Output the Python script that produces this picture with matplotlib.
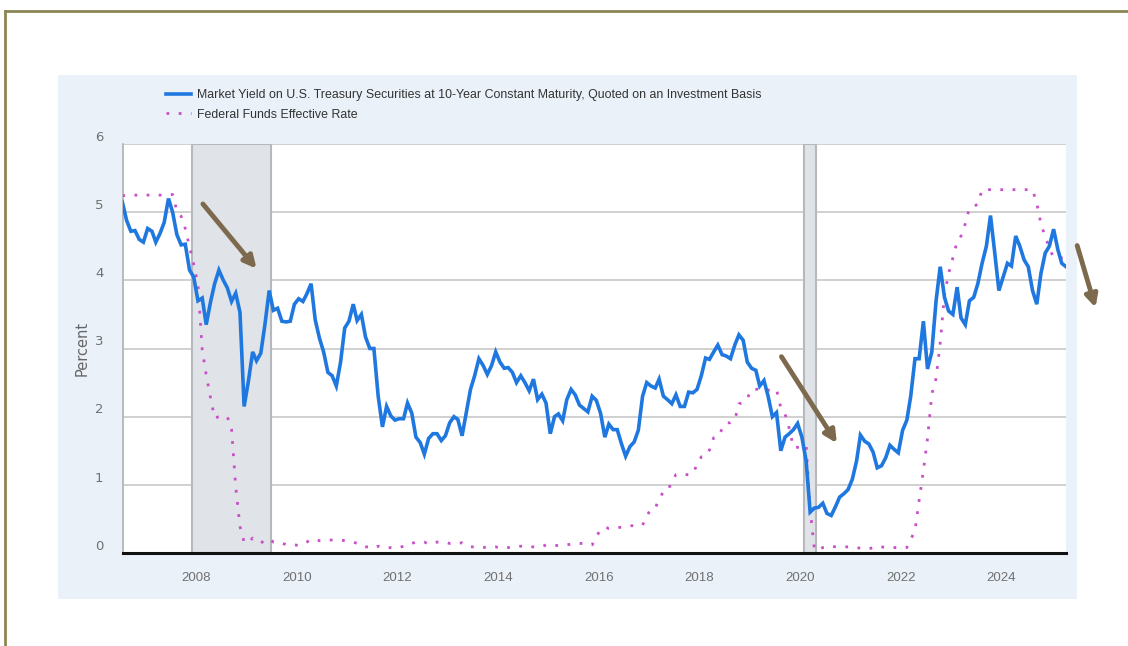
import matplotlib
matplotlib.use("Agg")
import matplotlib.pyplot as plt
import matplotlib.dates as mdates
import matplotlib.transforms as mtransforms
from matplotlib.lines import Line2D
from matplotlib.patches import Rectangle
import pandas as pd

# monthly values, Jul 2006 .. Apr 2025
start_month = "2006-07-01"

ten_year = [
    5.15, 4.88, 4.72, 4.73, 4.60, 4.56,                                   # 2006 H2
    4.76, 4.72, 4.56, 4.69, 4.85, 5.20, 5.00, 4.67, 4.52, 4.53, 4.15, 4.05,  # 2007
    3.70, 3.74, 3.35, 3.68, 3.95, 4.15, 4.01, 3.89, 3.69, 3.81, 3.53, 2.15,  # 2008
    2.52, 2.95, 2.82, 2.93, 3.35, 3.85, 3.56, 3.59, 3.40, 3.39, 3.40, 3.65,  # 2009
    3.73, 3.69, 3.80, 3.95, 3.42, 3.15, 2.95, 2.65, 2.60, 2.45, 2.80, 3.30,  # 2010
    3.40, 3.65, 3.41, 3.50, 3.17, 3.00, 3.00, 2.30, 1.85, 2.15, 2.01, 1.95,  # 2011
    1.97, 1.97, 2.20, 2.05, 1.70, 1.62, 1.45, 1.68, 1.75, 1.75, 1.65, 1.72,  # 2012
    1.91, 2.00, 1.96, 1.72, 2.05, 2.40, 2.60, 2.85, 2.75, 2.62, 2.75, 2.95,  # 2013
    2.80, 2.71, 2.72, 2.65, 2.50, 2.60, 2.50, 2.38, 2.55, 2.25, 2.33, 2.20,  # 2014
    1.75, 2.00, 2.04, 1.94, 2.25, 2.40, 2.32, 2.17, 2.12, 2.07, 2.30, 2.24,  # 2015
    2.05, 1.70, 1.89, 1.81, 1.81, 1.60, 1.42, 1.56, 1.63, 1.80, 2.30, 2.50,  # 2016
    2.45, 2.42, 2.55, 2.30, 2.25, 2.19, 2.32, 2.15, 2.15, 2.36, 2.35, 2.40,  # 2017
    2.60, 2.86, 2.84, 2.95, 3.05, 2.91, 2.89, 2.85, 3.05, 3.20, 3.12, 2.80,  # 2018
    2.71, 2.68, 2.45, 2.53, 2.30, 2.00, 2.06, 1.50, 1.70, 1.75, 1.81, 1.90,  # 2019
    1.70, 1.35, 0.60, 0.66, 0.67, 0.73, 0.58, 0.55, 0.68, 0.82, 0.87, 0.93,  # 2020
    1.08, 1.35, 1.73, 1.64, 1.60, 1.48, 1.25, 1.28, 1.40, 1.58, 1.52, 1.47,  # 2021
    1.80, 1.95, 2.30, 2.85, 2.85, 3.40, 2.70, 2.95, 3.70, 4.20, 3.75, 3.55,  # 2022
    3.50, 3.90, 3.45, 3.35, 3.70, 3.75, 3.95, 4.25, 4.50, 4.95, 4.40, 3.85,  # 2023
    4.05, 4.25, 4.21, 4.65, 4.50, 4.30, 4.20, 3.85, 3.65, 4.10, 4.40, 4.50,  # 2024
    4.75, 4.45, 4.25, 4.20,                                               # 2025
]

fed_funds = [
    5.24, 5.25, 5.25, 5.25, 5.25, 5.24,
    5.25, 5.26, 5.26, 5.25, 5.25, 5.25, 5.26, 5.02, 4.94, 4.76, 4.49, 4.24,
    3.94, 2.98, 2.61, 2.28, 1.98, 2.00, 2.01, 2.00, 1.81, 0.97, 0.39, 0.16,
    0.15, 0.22, 0.18, 0.15, 0.18, 0.21, 0.16, 0.16, 0.15, 0.12, 0.12, 0.12,
    0.11, 0.13, 0.16, 0.20, 0.20, 0.18, 0.18, 0.19, 0.19, 0.19, 0.19, 0.18,
    0.17, 0.16, 0.14, 0.10, 0.09, 0.09, 0.07, 0.10, 0.08, 0.07, 0.08, 0.07,
    0.08, 0.10, 0.13, 0.14, 0.16, 0.16, 0.16, 0.13, 0.14, 0.16, 0.16, 0.16,
    0.14, 0.15, 0.14, 0.15, 0.11, 0.09, 0.09, 0.08, 0.08, 0.09, 0.08, 0.09,
    0.07, 0.07, 0.08, 0.09, 0.09, 0.10, 0.09, 0.09, 0.09, 0.09, 0.09, 0.12,
    0.11, 0.11, 0.11, 0.12, 0.12, 0.13, 0.13, 0.14, 0.14, 0.12, 0.12, 0.24,
    0.34, 0.38, 0.36, 0.37, 0.37, 0.38, 0.39, 0.40, 0.40, 0.40, 0.41, 0.54,
    0.65, 0.66, 0.79, 0.90, 0.91, 1.04, 1.15, 1.16, 1.15, 1.15, 1.16, 1.30,
    1.41, 1.42, 1.51, 1.69, 1.70, 1.82, 1.91, 1.91, 1.95, 2.19, 2.20, 2.27,
    2.40, 2.40, 2.41, 2.42, 2.39, 2.38, 2.40, 2.13, 2.04, 1.83, 1.55, 1.55,
    1.55, 1.58, 0.65, 0.05, 0.05, 0.08, 0.09, 0.10, 0.09, 0.09, 0.09, 0.09,
    0.09, 0.08, 0.07, 0.07, 0.06, 0.08, 0.10, 0.09, 0.08, 0.08, 0.08, 0.08,
    0.08, 0.08, 0.20, 0.33, 0.77, 1.21, 1.68, 2.33, 2.56, 3.08, 3.78, 4.10,
    4.33, 4.57, 4.65, 4.83, 5.06, 5.08, 5.12, 5.33, 5.33, 5.33, 5.33, 5.33,
    5.33, 5.33, 5.33, 5.33, 5.33, 5.33, 5.33, 5.33, 5.13, 4.83, 4.64, 4.48,
    4.33, 4.33, 4.33, 4.33,
]

recessions = [("2007-12-01", "2009-06-30"), ("2020-02-01", "2020-04-30")]

legend_labels = [
    "Market Yield on U.S. Treasury Securities at 10-Year Constant Maturity, Quoted on an Investment Basis",
    "Federal Funds Effective Rate",
]

# arrows (start, end) in (date, percent)
arrows = [
    (("2008-02-20", 5.12), ("2009-03-15", 4.17)),
    (("2019-08-20", 2.88), ("2020-09-25", 1.61)),
    (("2025-07-05", 4.51), ("2025-11-15", 3.60)),
]

dates = pd.date_range(start_month, periods=len(ten_year), freq="MS") + pd.Timedelta(days=14)

W, H = 1128, 646
fig = plt.figure(figsize=(W / 100, H / 100), dpi=100)
fig.patch.set_facecolor("white")

# outer olive frame
olive = "#8c8654"
fig.add_artist(Line2D([5 / W, 5 / W], [0, 1 - 11 / H], color=olive, lw=2))
fig.add_artist(Line2D([5 / W, 1], [1 - 11 / H, 1 - 11 / H], color=olive, lw=2))

# light blue panel
fig.add_artist(Rectangle((58 / W, 1 - 599 / H), (1077 - 58) / W, (599 - 75) / H,
                         transform=fig.transFigure, facecolor="#eaf1f9",
                         edgecolor="none", zorder=0))

ax = fig.add_axes([123 / W, 1 - 553 / H, (1066 - 123) / W, (553 - 144) / H])
ax.set_facecolor("white")

for a, b in recessions:
    ax.axvspan(pd.Timestamp(a), pd.Timestamp(b), facecolor="#e0e3e7",
               edgecolor="#b5b8bc", lw=1.5, zorder=1)

line1, = ax.plot(dates, ten_year, color="#1f78e0", lw=2.6, zorder=4,
                 solid_joinstyle="miter")
line2, = ax.plot(dates, fed_funds, color="#c84fc8", lw=2.0, zorder=3,
                 linestyle=(0, (1, 3.4)))

ax.set_ylim(0, 6)
ax.set_xlim(pd.Timestamp("2006-07-20"), pd.Timestamp("2025-04-15"))
ax.set_yticks([0, 1, 2, 3, 4, 5, 6])
ax.grid(axis="y", color="#c4c4c4", lw=1.1, zorder=0)
ax.set_axisbelow(True)

ax.xaxis.set_major_locator(mdates.YearLocator(2))
ax.xaxis.set_major_formatter(mdates.DateFormatter("%Y"))

ax.tick_params(axis="both", length=0, colors="#707070", labelsize=9.5)
ax.tick_params(axis="x", pad=14)
ax.tick_params(axis="y", pad=14)
for t in ax.get_xticklabels():
    t.set_family("Liberation Sans")
for t in ax.get_yticklabels():
    t.set_transform(t.get_transform() + mtransforms.ScaledTranslation(0, 6 / 72, fig.dpi_scale_trans))

for side in ["top", "right"]:
    ax.spines[side].set_visible(False)
ax.spines["left"].set_color("#b0b0b0")
ax.spines["left"].set_linewidth(1.2)
ax.spines["bottom"].set_color("#111111")
ax.spines["bottom"].set_linewidth(2.2)

ax.set_ylabel("Percent", color="#666666", fontsize=10.5, labelpad=4)

for (d0, y0), (d1, y1) in arrows:
    ax.annotate("", xy=(mdates.date2num(pd.Timestamp(d1)), y1),
                xytext=(mdates.date2num(pd.Timestamp(d0)), y0),
                arrowprops=dict(arrowstyle="-|>", color="#7d6a4e", lw=3.5,
                                mutation_scale=18, shrinkA=0, shrinkB=0),
                annotation_clip=False, zorder=6)

fig.legend([line1, line2], legend_labels, loc="upper left",
           bbox_to_anchor=(155 / W, 1 - 78 / H), frameon=False,
           handlelength=2.0, handletextpad=0.5, labelspacing=0.6,
           prop={"family": "Liberation Sans", "size": 8.9}, labelcolor="#333333")

fig.savefig("out.png", dpi=100)
